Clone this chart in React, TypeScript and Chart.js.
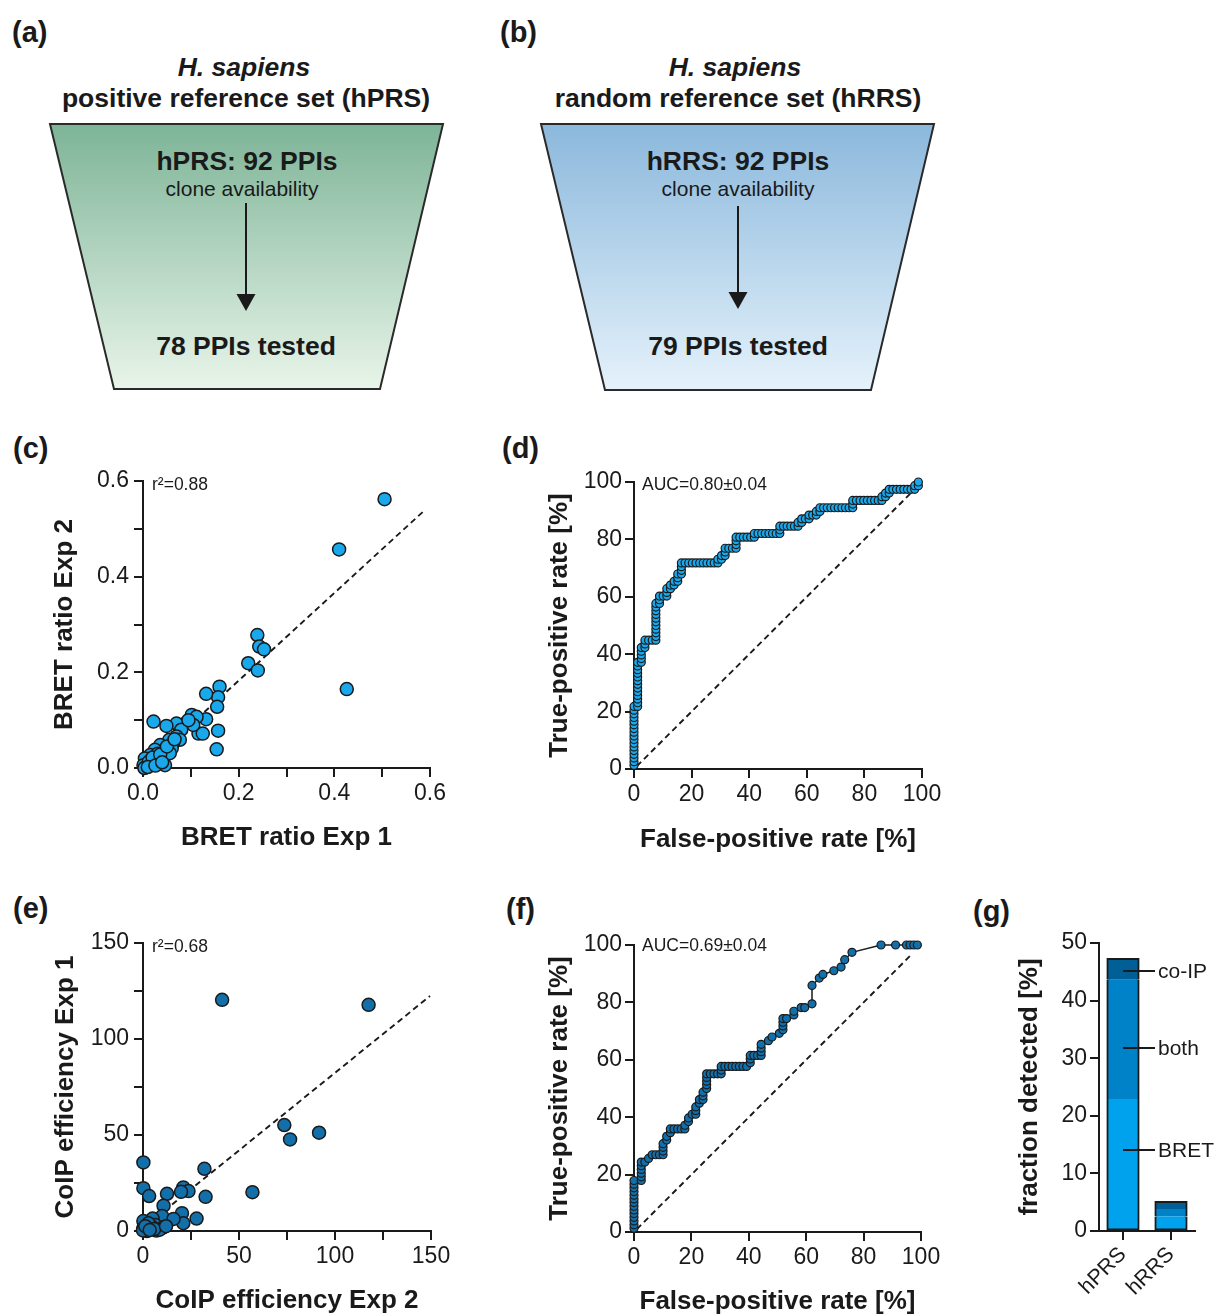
import React, { useEffect, useRef } from 'react';
import { Chart, registerables } from 'chart.js';

Chart.register(...registerables);

const FONT = '"Liberation Sans", Arial, Helvetica, sans-serif';
const INK = '#1a1a1a';
const LIGHT_BLUE = '#19a8ec';
const DARK_BLUE = '#136fa9';
const BRET_COLOR = '#00a2ee';
const BOTH_COLOR = '#0082c8';
const COIP_COLOR = '#005f96';

// ---------- (c) BRET replicate scatter ----------
const bretExp1 = [0.505, 0.41, 0.426, 0.239, 0.243, 0.253, 0.22, 0.24, 0.16, 0.157, 0.155, 0.132, 0.157, 0.154, 0.132, 0.102, 0.112, 0.116, 0.125, 0.088, 0.07, 0.049, 0.022, 0.105, 0.08, 0.07, 0.055, 0.077, 0.063, 0.06, 0.046, 0.036, 0.025, 0.042, 0.015, 0.004, 0.008, 0.046, 0.018, 0.029, 0.001, 0.056, 0.031, 0.012, 0.02, 0.036, 0.05, 0.066, 0.095, 0.003, 0.01, 0.026, 0.04];
const bretExp2 = [0.562, 0.457, 0.165, 0.278, 0.254, 0.248, 0.219, 0.204, 0.17, 0.148, 0.128, 0.155, 0.078, 0.039, 0.102, 0.111, 0.107, 0.072, 0.072, 0.093, 0.093, 0.088, 0.097, 0.09, 0.08, 0.066, 0.059, 0.059, 0.052, 0.041, 0.038, 0.048, 0.038, 0.025, 0.027, 0.02, 0.003, 0.006, 0.01, 0.017, 0.006, 0.031, 0.03, 0.013, 0.022, 0.028, 0.045, 0.06, 0.1, 0.0, 0.002, 0.005, 0.012];
const bretFitX = [0.005, 0.59];
const bretFitY = [0.004, 0.54];
const bretTickLabels = ['0.0', '', '0.2', '', '0.4', '', '0.6'];

// ---------- (e) CoIP replicate scatter ----------
const coipExp2 = [41.2, 117.5, 73.6, 76.6, 91.7, 57.0, 32.0, 32.6, 0.2, 0.2, 3.2, 12.5, 21.0, 23.7, 19.8, 10.7, 10.0, 20.3, 21.0, 27.9, 15.9, 5.0, 0.2, 6.4, 10.6, 0.2, 2.0, 7.0, 4.5, 2.8, 0.0, 8.7, 1.2, 5.8, 12.0, 3.5];
const coipExp1 = [120.4, 117.8, 55.2, 47.7, 51.2, 20.2, 32.4, 17.8, 35.7, 22.3, 18.2, 19.4, 22.7, 20.8, 20.4, 13.2, 7.8, 9.3, 4.1, 6.5, 6.3, 6.5, 5.2, 3.1, 1.9, 1.4, 0.0, 0.2, 2.3, 4.0, 0.3, 0.7, 2.5, 1.0, 2.5, 0.5];
const coipFitX = [3, 149.5];
const coipFitY = [4, 122.4];
const coipTickLabels = ['0', '', '50', '', '100', '', '150'];

// ---------- ROC curves (counts of false / true positives) ----------
const N_NEG = 79; // hRRS pairs tested
const N_POS = 78; // hPRS pairs tested
const rocBretFP = [0,0,0,0,0,0,0,0,0,0,0,0,0,0,0,0,0, 1,1,1,1,1,1,1,1,1,1,1,1,1, 2,2,2,2,2, 3,3,3, 4,5, 6,6,6,6,6,6,6,6,6,6,6, 7,7,7, 8, 9,9,9, 10,10, 11,11, 12,12,12, 13,13,13,13, 14,15,16,17,18,19,20,21,22, 23,23, 24,24, 25,25,25, 26,27, 28,28,28,28, 29,30,31,32, 33,33, 34,35,36,37,38,39, 40,40,40, 41,42,43,44, 45,45, 46,46, 47, 48,48, 49, 50,50, 51,51, 52,53,54,55,56,57,58,59, 60,60,60, 61,62,63,64,65,66,67, 68,68, 69,69, 70,70, 71,72,73,74,75,76, 77,77, 78,78];
const rocBretTP = [1,2,3,4,5,6,7,8,9,10,11,12,13,14,15,16,17, 17,18,19,20,21,22,23,24,25,26,27,28,29, 29,30,31,32,33, 33,34,35, 35,35, 35,36,37,38,39,40,41,42,43,44,45, 45,46,47, 47, 47,48,49, 49,50, 50,51, 51,52,53, 53,54,55,56, 56,56,56,56,56,56,56,56,56, 56,57, 57,58, 58,59,60, 60,60, 60,61,62,63, 63,63,63,63, 63,64, 64,64,64,64,64,64, 64,65,66, 66,66,66,66, 66,67, 67,68, 68, 68,69, 69, 69,70, 70,71, 71,71,71,71,71,71,71,71, 71,72,73, 73,73,73,73,73,73,73, 73,74, 74,75, 75,76, 76,76,76,76,76,76, 76,77, 77,78];
const rocCoipFP = [0,0,0,0,0,0,0,0,0,0,0,0,0,0, 2,2,2,2,2,2, 3,4,5,6,7,8,8,8,8, 9,9,10,10,11,12,13,14,14,15,15,16,17,17,17,18,18,19,19,19,20,20,20,20,20,21,22,23,24,24,24,25,26,27,28,29,30,31,32,32,32,33,34,35,35,35,35,37,38,40,41,41,41,41,42,44,44,46,47,49,49,51,52,55,57,58,60,68,72,75,76,77,78];
const rocCoipTP = [1,2,3,4,5,6,7,8,9,10,11,12,13,14, 14,15,16,17,18,19, 19,20,21,21,21,21,22,23,24, 25,26,27,28,28,28,28,28,29,30,31,32,32,33,34,35,36,36,37,38,39,40,41,42,43,43,43,43,43,44,45,45,45,45,45,45,45,45,46,47,48,48,48,48,49,50,51,52,53,54,55,56,57,58,58,59,60,61,61,62,67,69,70,71,72,74,76,78,78,78,78,78,78];
const diagX = [1, 97];
const diagY = [1, 97];
const rocTickLabels = ['0', '20', '40', '60', '80', '100'];

// ---------- (g) fraction detected ----------
const refSets = ['hPRS', 'hRRS'];
const bretOnly = [22.9, 2.5];
const bothMethods = [20.7, 1.3];
const coipOnly = [3.7, 1.3];
const stackLabels = ['co-IP', 'both', 'BRET'];
const stackLabelY = [45.2, 31.8, 14.0];
const fracTickLabels = ['0', '10', '20', '30', '40', '50'];

Chart.defaults.font.family = FONT;

type AxisParams = {
  min: number; max: number; step: number; labels: string[];
  size: number; horizontal: boolean; tickPad: number;
  title?: string; titlePad?: number;
};

function numAxis(p: AxisParams): any {
  return {
    type: 'linear',
    min: p.min,
    max: p.max,
    afterFit: (s: any) => { if (p.horizontal) s.height = p.size; else s.width = p.size; },
    ticks: {
      stepSize: p.step, autoSkip: false, maxRotation: 0, minRotation: 0,
      padding: p.tickPad, color: INK, font: { family: FONT, size: 23 },
      callback: (_v: any, i: number) => (p.labels[i] !== undefined ? p.labels[i] : ''),
    },
    grid: { drawOnChartArea: false, drawTicks: true, tickLength: 9, color: INK, lineWidth: 2 },
    border: { display: true, color: INK, width: 2 },
    title: p.title
      ? {
          display: true, text: p.title, color: INK,
          font: { family: FONT, size: 26, weight: 'bold', lineHeight: 1 },
          padding: p.horizontal ? { top: 0, bottom: p.titlePad } : { top: p.titlePad, bottom: 0 },
        }
      : { display: false },
  };
}

function cornerText(text: string, dx: number, dy: number) {
  return {
    id: 'cornerText',
    afterDraw(chart: any) {
      const { ctx, chartArea } = chart;
      ctx.save();
      ctx.font = `17.5px ${FONT}`;
      ctx.fillStyle = INK;
      ctx.textAlign = 'left';
      ctx.textBaseline = 'middle';
      ctx.fillText(text, chartArea.left + dx, chartArea.top + dy);
      ctx.restore();
    },
  };
}

const basePlugins = { legend: { display: false }, tooltip: { enabled: false } };

function scatterConfig(o: {
  xs: number[]; ys: number[]; fitX: number[]; fitY: number[]; color: string;
  min: number; max: number; step: number; labels: string[];
  xTitle: string; yTitle: string; padding: any; yWidth: number; yTitlePad: number;
  xHeight: number; xTitlePad: number; corner: string;
}): any {
  return {
    type: 'scatter',
    data: {
      datasets: [
        {
          data: o.xs.map((x, i) => ({ x, y: o.ys[i] })),
          pointRadius: 6.5, pointBackgroundColor: o.color, pointBorderColor: INK,
          pointBorderWidth: 1.5, showLine: false, clip: false,
        },
        {
          data: o.fitX.map((x, i) => ({ x, y: o.fitY[i] })),
          showLine: true, borderColor: INK, borderWidth: 1.9, borderDash: [6, 4],
          pointRadius: 0, clip: false,
        },
      ],
    },
    options: {
      responsive: false, animation: false, events: [],
      layout: { padding: o.padding },
      plugins: basePlugins,
      scales: {
        x: numAxis({ min: o.min, max: o.max, step: o.step, labels: o.labels, size: o.xHeight, horizontal: true, tickPad: 3, title: o.xTitle, titlePad: o.xTitlePad }),
        y: numAxis({ min: o.min, max: o.max, step: o.step, labels: o.labels, size: o.yWidth, horizontal: false, tickPad: 5, title: o.yTitle, titlePad: o.yTitlePad }),
      },
    },
    plugins: [cornerText(o.corner, 9, 4)],
  };
}

function rocConfig(o: {
  fp: number[]; tp: number[]; color: string; padding: any; yTitlePad: number;
  xHeight: number; xTitlePad: number; corner: string; cornerDy: number;
}): any {
  return {
    type: 'scatter',
    data: {
      datasets: [
        {
          data: o.fp.map((f, i) => ({ x: (f / N_NEG) * 100, y: (o.tp[i] / N_POS) * 100 })),
          showLine: true, borderColor: INK, borderWidth: 1.5, tension: 0,
          pointRadius: 4, pointBackgroundColor: o.color, pointBorderColor: INK,
          pointBorderWidth: 1.2, clip: false,
        },
        {
          data: diagX.map((x, i) => ({ x, y: diagY[i] })),
          showLine: true, borderColor: INK, borderWidth: 1.9, borderDash: [6, 4],
          pointRadius: 0, clip: false,
        },
      ],
    },
    options: {
      responsive: false, animation: false, events: [],
      layout: { padding: o.padding },
      plugins: basePlugins,
      scales: {
        x: numAxis({ min: 0, max: 100, step: 20, labels: rocTickLabels, size: o.xHeight, horizontal: true, tickPad: 3, title: 'False-positive rate [%]', titlePad: o.xTitlePad }),
        y: numAxis({ min: 0, max: 100, step: 20, labels: rocTickLabels, size: 154, horizontal: false, tickPad: 3, title: 'True-positive rate [%]', titlePad: o.yTitlePad }),
      },
    },
    plugins: [cornerText(o.corner, 8, o.cornerDy)],
  };
}

function barConfig(): any {
  const annot = {
    id: 'stackAnnot',
    afterDatasetsDraw(chart: any) {
      const { ctx, scales } = chart;
      const x0 = scales.x.getPixelForValue(0);
      ctx.save();
      ctx.strokeStyle = INK;
      ctx.lineWidth = 2;
      ctx.fillStyle = INK;
      ctx.font = `21px ${FONT}`;
      ctx.textAlign = 'left';
      ctx.textBaseline = 'middle';
      stackLabels.forEach((lab, i) => {
        const y = Math.round(scales.y.getPixelForValue(stackLabelY[i]));
        ctx.beginPath();
        ctx.moveTo(x0, y);
        ctx.lineTo(x0 + 32, y);
        ctx.stroke();
        ctx.fillText(lab, x0 + 35, y + 1);
      });
      ctx.restore();
    },
  };
  const common = { barPercentage: 1, categoryPercentage: 32 / 48, borderColor: INK, borderSkipped: false, inflateAmount: 0.6 };
  return {
    type: 'bar',
    data: {
      labels: refSets,
      datasets: [
        { ...common, label: 'BRET', data: bretOnly, backgroundColor: BRET_COLOR, borderWidth: { top: 0, left: 2, right: 2, bottom: 2 } },
        { ...common, label: 'both', data: bothMethods, backgroundColor: BOTH_COLOR, borderWidth: { top: 0, left: 2, right: 2, bottom: 0 } },
        { ...common, label: 'co-IP', data: coipOnly, backgroundColor: COIP_COLOR, borderWidth: { top: 2, left: 2, right: 2, bottom: 0 } },
      ],
    },
    options: {
      responsive: false, animation: false, events: [],
      layout: { padding: { left: 0, top: 43, right: 19, bottom: 0 } },
      plugins: basePlugins,
      scales: {
        x: {
          type: 'category', offset: true, stacked: true,
          afterFit: (s: any) => { s.height = 85; },
          grid: { offset: false, drawOnChartArea: false, drawTicks: true, tickLength: 9, color: INK, lineWidth: 2 },
          border: { display: true, color: INK, width: 2 },
          ticks: { autoSkip: false, maxRotation: 45, minRotation: 45, padding: 2, color: INK, font: { family: FONT, size: 21.5 } },
        },
        y: {
          ...numAxis({ min: 0, max: 50, step: 10, labels: fracTickLabels, size: 139, horizontal: false, tickPad: 3, title: 'fraction detected [%]', titlePad: 57 }),
          stacked: true,
        },
      },
    },
    plugins: [annot],
  };
}

function ChartCanvas(props: { left: number; top: number; width: number; height: number; make: () => any }) {
  const ref = useRef<HTMLCanvasElement | null>(null);
  useEffect(() => {
    const chart = new Chart(ref.current as HTMLCanvasElement, props.make());
    return () => chart.destroy();
  }, []);
  return (
    <canvas
      ref={ref}
      width={props.width}
      height={props.height}
      style={{ position: 'absolute', left: props.left, top: props.top, width: props.width, height: props.height }}
    />
  );
}

function Label(props: { x: number; y: number; text: string; size: number; bold?: boolean; italic?: boolean; center?: boolean }) {
  return (
    <div
      style={{
        position: 'absolute', left: props.x, top: props.y,
        transform: props.center ? 'translate(-50%, -50%)' : 'translate(0, -50%)',
        fontFamily: FONT, fontSize: props.size, lineHeight: 1,
        fontWeight: props.bold ? 'bold' : 'normal', fontStyle: props.italic ? 'italic' : 'normal',
        color: INK, whiteSpace: 'nowrap',
      }}
    >
      {props.text}
    </div>
  );
}

function Funnels() {
  return (
    <svg width={1214} height={400} style={{ position: 'absolute', left: 0, top: 0 }}>
      <defs>
        <linearGradient id="gradA" x1="0" y1="0" x2="0" y2="1">
          <stop offset="0" stopColor="#7db497" />
          <stop offset="1" stopColor="#e9f5ea" />
        </linearGradient>
        <linearGradient id="gradB" x1="0" y1="0" x2="0" y2="1">
          <stop offset="0" stopColor="#8bb8dc" />
          <stop offset="1" stopColor="#e5f2fb" />
        </linearGradient>
      </defs>
      <polygon points="50,124 443,124 380,389 114,389" fill="url(#gradA)" stroke="#2a2a2a" strokeWidth={2} />
      <line x1={246} y1={203} x2={246} y2={297} stroke={INK} strokeWidth={2} />
      <polygon points="236.5,294 255.5,294 246,311" fill={INK} />
      <polygon points="541,124 934,124 871,390 605,390" fill="url(#gradB)" stroke="#2a2a2a" strokeWidth={2} />
      <line x1={738} y1={206} x2={738} y2={295} stroke={INK} strokeWidth={2} />
      <polygon points="728.5,292 747.5,292 738,309" fill={INK} />
    </svg>
  );
}

export default function App() {
  return (
    <div style={{ position: 'absolute', left: 0, top: 0, width: 1214, height: 1316, background: '#fff', overflow: 'hidden' }}>
      <Funnels />
      <Label x={12} y={32} text="(a)" size={29} bold />
      <Label x={500} y={32} text="(b)" size={29} bold />
      <Label x={13} y={448} text="(c)" size={29} bold />
      <Label x={502} y={448} text="(d)" size={29} bold />
      <Label x={13} y={908} text="(e)" size={29} bold />
      <Label x={506} y={909} text="(f)" size={29} bold />
      <Label x={973} y={911} text="(g)" size={29} bold />

      <Label x={244} y={67} text="H. sapiens" size={26.5} bold italic center />
      <Label x={246} y={98} text="positive reference set (hPRS)" size={26.5} bold center />
      <Label x={247} y={161} text="hPRS: 92 PPIs" size={26.5} bold center />
      <Label x={242} y={188} text="clone availability" size={21} center />
      <Label x={246} y={346} text="78 PPIs tested" size={26.5} bold center />

      <Label x={735} y={67} text="H. sapiens" size={26.5} bold italic center />
      <Label x={738} y={98} text="random reference set (hRRS)" size={26.5} bold center />
      <Label x={738} y={161} text="hRRS: 92 PPIs" size={26.5} bold center />
      <Label x={738} y={188} text="clone availability" size={21} center />
      <Label x={738} y={346} text="79 PPIs tested" size={26.5} bold center />

      <ChartCanvas left={0} top={440} width={470} height={420} make={() => scatterConfig({
        xs: bretExp1, ys: bretExp2, fitX: bretFitX, fitY: bretFitY, color: LIGHT_BLUE,
        min: 0, max: 0.6, step: 0.1, labels: bretTickLabels,
        xTitle: 'BRET ratio Exp 1', yTitle: 'BRET ratio Exp 2',
        padding: { left: 0, top: 41, right: 40, bottom: 0 }, yWidth: 143, yTitlePad: 52,
        xHeight: 92, xTitlePad: 9, corner: 'r²=0.88',
      })} />
      <ChartCanvas left={480} top={440} width={480} height={420} make={() => rocConfig({
        fp: rocBretFP, tp: rocBretTP, color: LIGHT_BLUE,
        padding: { left: 0, top: 42, right: 38, bottom: 0 }, yTitlePad: 67,
        xHeight: 91, xTitlePad: 7, corner: 'AUC=0.80±0.04', cornerDy: 3,
      })} />
      <ChartCanvas left={0} top={900} width={470} height={416} make={() => scatterConfig({
        xs: coipExp2, ys: coipExp1, fitX: coipFitX, fitY: coipFitY, color: DARK_BLUE,
        min: 0, max: 150, step: 25, labels: coipTickLabels,
        xTitle: 'CoIP efficiency Exp 2', yTitle: 'CoIP efficiency Exp 1',
        padding: { left: 0, top: 43, right: 39, bottom: 0 }, yWidth: 143, yTitlePad: 53,
        xHeight: 85, xTitlePad: 2, corner: 'r²=0.68',
      })} />
      <ChartCanvas left={480} top={900} width={480} height={416} make={() => rocConfig({
        fp: rocCoipFP, tp: rocCoipTP, color: DARK_BLUE,
        padding: { left: 0, top: 45, right: 39, bottom: 0 }, yTitlePad: 67,
        xHeight: 84, xTitlePad: 1, corner: 'AUC=0.69±0.04', cornerDy: 1,
      })} />
      <ChartCanvas left={960} top={900} width={254} height={416} make={barConfig} />
    </div>
  );
}
